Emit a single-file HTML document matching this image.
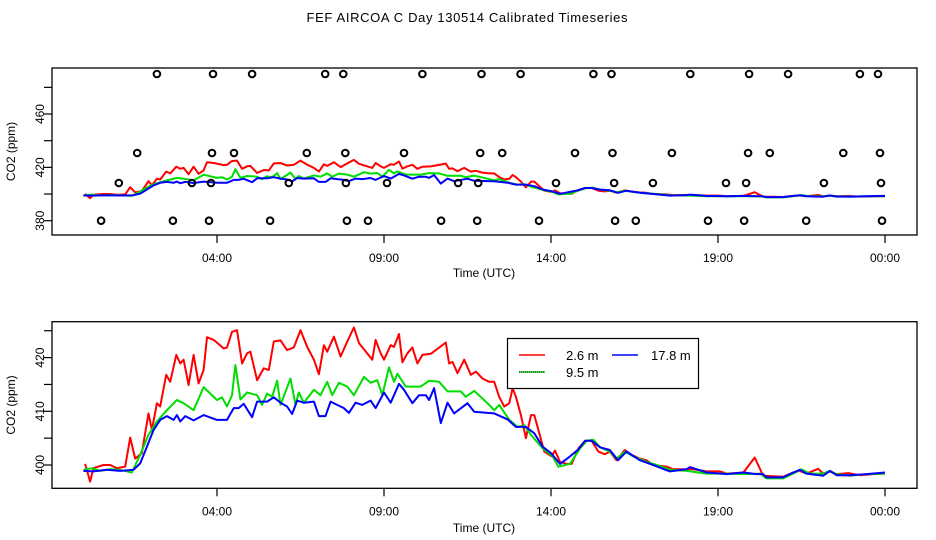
<!DOCTYPE html>
<html><head><meta charset="utf-8"><style>
body{margin:0;background:#fff;}
svg{display:block;font-family:"Liberation Sans",sans-serif;}
</style></head><body>
<svg id="chart" width="936" height="540" xmlns="http://www.w3.org/2000/svg">
<text x="467" y="22" text-anchor="middle" font-size="13" textLength="321">FEF AIRCOA C  Day 130514  Calibrated Timeseries</text>
</svg>
<script>
// hours since 00:00 and CO2 ppm
const redT=[0.05,0.2,0.3,0.6,0.8,1.0,1.25,1.4,1.55,1.75,1.95,2.05,2.2,2.3,2.48,2.6,2.78,2.9,3.0,3.15,3.3,3.45,3.6,3.7,3.9,4.2,4.3,4.45,4.6,4.75,4.9,5.0,5.2,5.4,5.55,5.7,5.9,6.1,6.3,6.5,6.7,6.9,7.05,7.2,7.3,7.5,7.7,7.9,8.1,8.25,8.65,8.75,8.9,9.0,9.2,9.3,9.45,9.55,9.7,9.85,10.0,10.15,10.4,10.85,10.95,11.05,11.2,11.4,11.6,11.75,11.95,12.15,12.3,12.45,12.6,12.75,12.85,12.95,13.1,13.25,13.4,13.5,13.65,13.8,13.95,14.02,14.12,14.27,14.47,14.62,14.82,15.02,15.22,15.42,15.61,15.76,15.96,16.21,16.41,16.66,16.86,17.06,17.46,17.66,18.26,18.66,19.06,19.26,19.76,20.1,20.35,20.65,20.95,21.25,21.45,21.65,22.0,22.15,22.35,22.55,22.9,23.25,23.65,24.0];
const redV=[400.2,396.9,399.4,400.0,400.0,399.4,399.7,405.1,401.2,402.2,409.6,406.5,411.5,410.9,416.8,415.5,420.5,418.9,419.6,414.9,420.5,415.2,417.7,423.8,423.3,421.7,421.9,424.8,425.1,418.9,420.8,421.1,415.8,418.0,417.7,423.0,423.2,421.4,421.9,425.1,422.0,419.6,416.9,422.3,421.1,423.9,420.2,423.0,425.6,422.7,419.6,423.3,420.8,419.6,422.3,422.0,424.4,419.1,420.8,421.9,418.9,420.5,420.7,422.8,418.9,419.2,417.1,419.6,416.8,417.4,416.1,415.5,415.5,412.7,410.9,411.5,414.3,412.7,409.3,405.0,409.3,409.3,405.9,402.5,401.9,401.6,402.7,400.6,400.2,400.2,403.1,404.5,404.5,402.5,402.0,402.5,400.9,402.8,401.9,401.2,400.9,400.0,399.7,399.2,399.2,398.8,398.8,398.4,398.6,401.4,398.0,397.9,397.8,398.6,398.9,398.4,399.3,398.4,398.8,398.3,398.5,398.1,398.3,398.4];
const greenT=[0,0.25,0.5,0.8,1.1,1.45,1.7,1.95,2.2,2.5,2.8,3.0,3.3,3.6,3.8,4.0,4.15,4.3,4.45,4.55,4.7,4.9,5.2,5.35,5.5,5.65,5.8,5.9,6.2,6.35,6.45,6.6,6.9,7.1,7.3,7.45,7.65,7.9,8.1,8.4,8.6,8.8,8.95,9.15,9.3,9.4,9.65,10.1,10.35,10.65,10.9,11.05,11.3,11.45,11.7,12.1,12.3,12.45,12.75,13.0,13.2,13.4,13.75,14.05,14.22,14.57,14.87,15.07,15.27,15.47,15.76,15.96,16.21,16.46,16.86,17.17,17.56,18.06,18.66,19.26,19.86,20.25,20.45,20.95,21.25,21.5,21.75,22.15,22.35,22.55,22.95,23.45,24.0];
const greenV=[399.1,399.4,398.9,399.2,399.1,398.6,401.9,405.6,408.1,410.2,412.1,411.5,410.2,414.5,413.3,412.1,412.6,410.9,413.0,418.6,412.2,413.5,413.0,411.2,413.3,412.7,415.7,411.2,416.1,411.2,413.5,411.6,414.0,413.0,415.5,413.0,415.3,414.6,413.0,416.4,415.3,415.8,413.0,418.2,415.5,417.0,414.6,414.6,415.7,415.5,413.7,413.7,413.7,412.7,413.8,411.5,410.2,411.2,408.4,407.1,407.4,405.6,403.1,401.6,399.7,400.2,403.1,404.5,404.7,403.3,402.5,401.2,402.5,401.6,400.6,400.0,399.1,398.9,398.4,398.4,398.3,398.4,397.5,397.5,398.4,399.2,398.4,398.4,398.9,398.3,398.0,398.3,398.4];
const blueT=[0,0.3,0.7,1.1,1.5,1.7,1.9,2.1,2.3,2.5,2.7,2.8,2.9,3.05,3.3,3.6,4.0,4.3,4.5,4.65,4.8,5.05,5.2,5.5,5.7,5.9,6.1,6.25,6.4,6.6,6.9,7.05,7.25,7.4,7.6,7.8,7.95,8.15,8.35,8.6,8.75,9.0,9.2,9.45,9.6,9.85,10.05,10.25,10.35,10.5,10.7,10.9,11.1,11.5,11.7,12.1,12.3,12.7,12.95,13.25,13.5,13.75,14.0,14.27,14.57,14.82,15.02,15.22,15.47,15.76,16.01,16.26,16.66,17.06,17.56,18.06,18.16,18.66,19.26,19.76,20.15,20.35,20.45,20.95,21.15,21.45,21.65,22.15,22.35,22.55,22.95,23.45,24.0];
const blueV=[398.9,398.8,399.1,398.9,399.1,400.3,403.4,406.5,408.4,409.1,408.4,409.3,408.1,409.1,408.3,409.3,408.4,408.4,410.6,410.6,411.4,408.9,411.8,411.8,412.6,411.6,410.9,409.5,412.0,411.6,411.8,409.1,409.1,411.8,411.2,410.6,409.7,411.6,411.2,412.0,410.6,413.5,411.6,415.1,414.0,411.5,413.0,413.0,412.1,414.3,407.8,411.6,409.6,411.5,409.9,409.7,409.6,408.5,407.1,407.1,405.9,403.4,402.2,400.2,401.6,402.9,404.5,404.5,403.3,402.8,400.9,402.5,400.9,400.0,398.8,399.2,399.6,398.6,398.3,398.6,398.3,398.3,397.7,397.7,398.3,399.1,398.4,398.0,398.9,398.1,398.1,398.3,398.6];
// flag markers in top panel
const flagT=[2.2,3.88,5.05,7.24,7.78,10.15,11.92,13.09,15.27,15.81,18.17,19.93,21.1,23.25,23.79, 1.61,3.85,4.51,6.69,7.84,9.6,11.88,12.54,14.72,15.84,17.62,19.9,20.55,22.75,23.85, 1.06,3.25,3.82,6.15,7.86,9.09,11.22,11.82,14.15,15.89,17.05,19.24,19.84,22.17,23.88, 0.53,2.68,3.76,5.59,7.89,8.52,10.71,11.79,13.64,15.92,16.54,18.7,19.78,21.64,23.91];
const flagV=[490,490,490,490,490,490,490,490,490,490,490,490,490,490,490, 430.8,430.8,430.8,430.8,430.8,430.8,430.8,430.8,430.8,430.8,430.8,430.8,430.8,430.8,430.8, 408.3,408.3,408.3,408.3,408.3,408.3,408.3,408.3,408.3,408.3,408.3,408.3,408.3,408.3,408.3, 380,380,380,380,380,380,380,380,380,380,380,380,380,380,380];
const xTickHours=[4,9,14,19,24];
const xTickLabels=["04:00","09:00","14:00","19:00","00:00"];
const topYTicks=[380,400,420,440,460,480];
const topYLabels=[380,420,460];
const botYTicks=[400,405,410,415,420,425];
const botYLabels=[400,410,420];

const NS="http://www.w3.org/2000/svg";
const svg=document.getElementById('chart');
function mk(tag,attrs,parent){const e=document.createElementNS(NS,tag);for(const k in attrs)e.setAttribute(k,attrs[k]);(parent||svg).appendChild(e);return e;}
const X0=52,X1=917;
function xs(h){return 83.4+h*33.4;}
function makeY(v0,y0,ppx){return v=>y0-(v-v0)*ppx;}
const panels=[
 {name:'top',top:68,bot:235,y:makeY(380,220.7,1.3335),ticks:topYTicks,labels:topYLabels,flags:true,xlab:277},
 {name:'bottom',top:321.7,bot:488.3,y:makeY(400,465,5.37),ticks:botYTicks,labels:botYLabels,flags:false,xlab:532}
];
panels.forEach(p=>{
 const g=mk('g',{});
 
 
 const cp=mk('clipPath',{id:'cp-'+p.name},g);
 mk('rect',{x:X0,y:p.top,width:X1-X0,height:p.bot-p.top},cp);
 const series=[[redT,redV,'#ff0000','red'],[greenT,greenV,'#00dd00','green'],[blueT,blueV,'#0000ff','blue']];
 series.forEach(s=>{
  const d=s[0].map((t,i)=>(i?'L':'M')+xs(t).toFixed(1)+','+p.y(s[1][i]).toFixed(1)).join('');
  const path=mk('path',{d:d,fill:'none',stroke:s[2],'stroke-width':2,'stroke-linejoin':'round','clip-path':'url(#cp-'+p.name+')'},g);
  
  
 });
 if(p.flags){
  flagT.forEach((t,i)=>{
   const c=mk('circle',{cx:xs(t).toFixed(1),cy:p.y(flagV[i]).toFixed(1),r:3.3,fill:'none',stroke:'#000','stroke-width':2},g);
   
   
  });
 }
 const box=mk('rect',{x:X0,y:p.top,width:X1-X0,height:p.bot-p.top,fill:'none',stroke:'#000','stroke-width':1.3},g);
 
 
 xTickHours.forEach((h,i)=>{
  const x=xs(h);
  mk('line',{x1:x,x2:x,y1:p.bot,y2:p.bot+8,stroke:'#000','stroke-width':1.2},g);
  const tl=mk('text',{x:x,y:p.bot+27,'text-anchor':'middle','font-size':12},g);
  tl.textContent=xTickLabels[i];
  
  
 });
 p.ticks.forEach(v=>{
  const y=p.y(v);
  mk('line',{x1:X0-8,x2:X0,y1:y,y2:y,stroke:'#000','stroke-width':1.2},g);
 });
 p.labels.forEach(v=>{
  const y=p.y(v);
  const tl=mk('text',{x:0,y:0,transform:'translate(44,'+y+') rotate(-90)','text-anchor':'middle','font-size':12},g);
  tl.textContent=v;
  
  
 });
 const xl=mk('text',{x:484,y:p.xlab,'text-anchor':'middle','font-size':12},g);
 xl.textContent='Time (UTC)';
 
 
 const yl=mk('text',{x:0,y:0,transform:'translate(15,'+((p.top+p.bot)/2)+') rotate(-90)','text-anchor':'middle','font-size':12},g);
 yl.textContent='CO2 (ppm)';
 
 
});
// legend
const lg=mk('g',{});


mk('rect',{x:507.5,y:338.5,width:191,height:50,fill:'#fff',stroke:'#000','stroke-width':1.2},lg);
const entries=[['2.6 m','#ff0000',519,545,566,355,'none'],['9.5 m','#00dd00',519,545,566,372,'none'],['17.8 m','#0000ff',612,638,651,355,'none']];
entries.forEach(e=>{
 const eg=mk('g',{},lg);
 
 
 mk('line',{x1:e[2],x2:e[3],y1:e[5],y2:e[5],stroke:e[1],'stroke-width':1.5},eg);
 if(e[0]==='9.5 m') mk('line',{x1:e[2],x2:e[3],y1:e[5],y2:e[5],stroke:'#000','stroke-width':1,'stroke-dasharray':'1,1'},eg);
 const t=mk('text',{x:e[4],y:e[5]+5,'font-size':13},eg);
 t.textContent=e[0];
});
</script>
</body></html>
